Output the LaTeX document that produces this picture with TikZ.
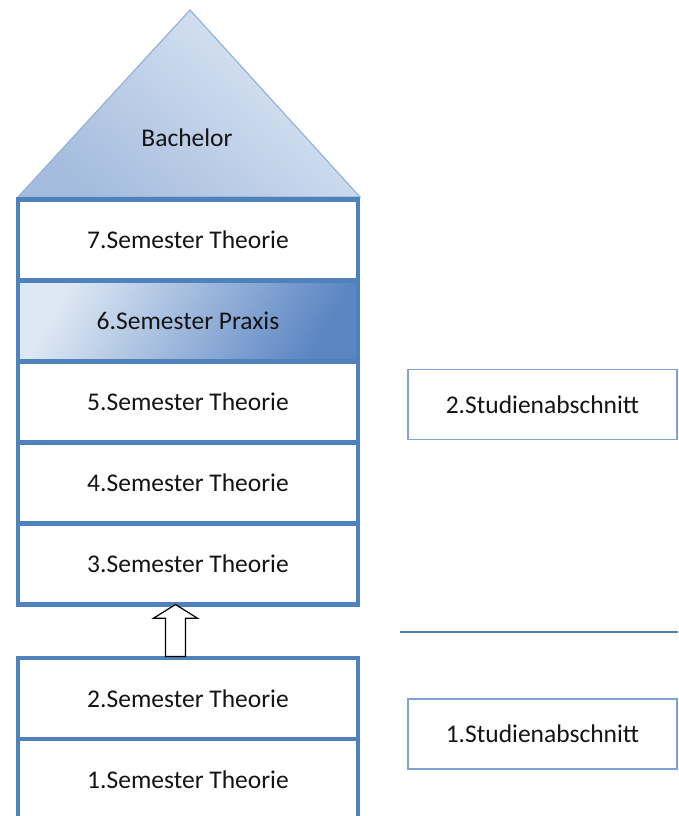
\documentclass[tikz,border=0pt]{standalone}
\usepackage{fontspec}
\setmainfont{Carlito}
\usepackage{tikz}
\usetikzlibrary{positioning,shapes.arrows}
\definecolor{azulrand}{RGB}{79,129,189}
\definecolor{azulclaro}{RGB}{149,179,215}
\definecolor{azulpalido}{RGB}{222,232,244}
\definecolor{azulhondo}{RGB}{92,134,195}
\definecolor{azulcaja}{RGB}{125,163,218}
\definecolor{tinta}{RGB}{20,20,20}
\newcommand{\textgross}{\fontsize{25.5}{30}\selectfont}
\tikzset{semestre/.style={draw=azulrand, line width=4.8pt, fill=white, minimum width=340pt, minimum height=81pt, outer sep=0pt, inner sep=0pt, font=\textgross, text=tinta},
abschnitt/.style={draw=azulcaja, line width=1.5pt, fill=white, minimum width=269pt, minimum height=70pt, font=\textgross, text=tinta},
pfeil/.style={single arrow, draw=black, fill=white, line width=1.2pt, rotate=90, minimum width=44pt, minimum height=52pt, inner xsep=0pt, inner ysep=9pt, single arrow head extend=11.5pt, single arrow tip angle=116, outer sep=0pt}}

\begin{document}
\begin{tikzpicture}[x=1pt,y=-1pt]
	\useasboundingbox (0,0) rectangle (678,816);
	  \draw[azulclaro, line width=1.2pt, top color=azulpalido, bottom color=azulhondo!55, shading angle=-40] (18,197) -- (190,10) -- (360,197) -- cycle;
	  \node[text=tinta, font=\textgross] (bachelor) at (187,138) {Bachelor};

	  \node[semestre, anchor=north] (s7) at (188,199.5) {7.Semester Theorie};
	  \node[semestre, below=0pt of s7, top color=azulpalido, bottom color=azulhondo, shading angle=60] (s6) {6.Semester Praxis};
	  \node[semestre, below=0pt of s6] (s5) {5.Semester Theorie};
	  \node[semestre, below=0pt of s5] (s4) {4.Semester Theorie};
	  \node[semestre, below=0pt of s4] (s3) {3.Semester Theorie};

	  \node[semestre, anchor=north] (s2) at (188,658) {2.Semester Theorie};
	  \node[semestre, below=0pt of s2] (s1) {1.Semester Theorie};

	  \node[pfeil, anchor=tip] (hoch) at ([xshift=-12.5pt]s3.south) {};

	  \node[abschnitt] (ab2) at (542.5,404.5) {2.Studienabschnitt};
	  \node[abschnitt] (ab1) at (542.5,734) {1.Studienabschnitt};

	  \coordinate (trennA) at (400,632);
	  \coordinate (trennB) at (678,632);
	  \draw[azulrand, line width=2pt] (trennA) -- (trennB);
\end{tikzpicture}
\end{document}
